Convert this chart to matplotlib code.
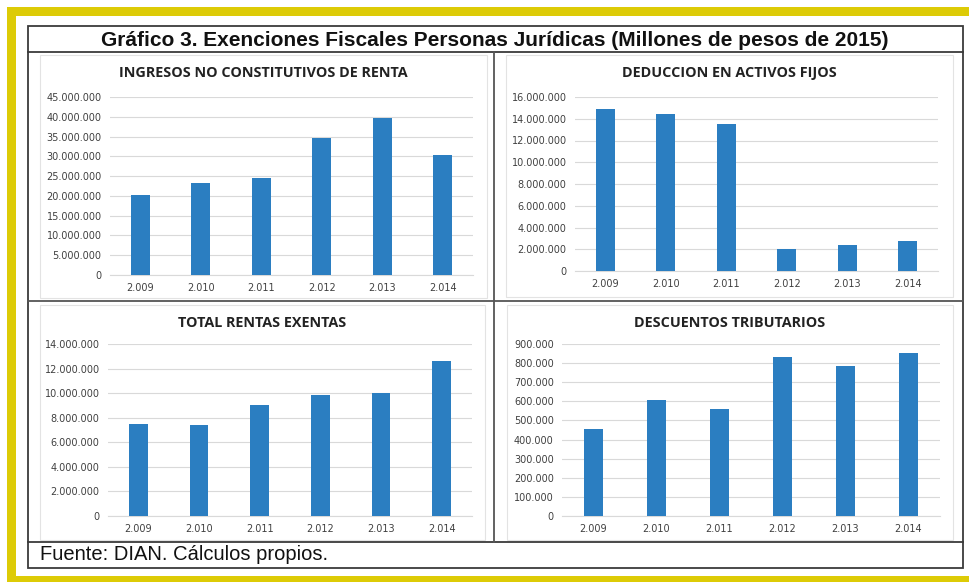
import matplotlib.pyplot as plt
from matplotlib.patches import Rectangle
from matplotlib.ticker import FuncFormatter, MultipleLocator

# data
years = ['2.009', '2.010', '2.011', '2.012', '2.013', '2.014']
ingresos = [20.3e6, 23.2e6, 24.4e6, 34.7e6, 39.7e6, 30.3e6]
deduccion = [14.9e6, 14.4e6, 13.55e6, 2.05e6, 2.35e6, 2.75e6]
rentas = [7.5e6, 7.4e6, 9.0e6, 9.85e6, 10.0e6, 12.6e6]
descuentos = [456e3, 607e3, 562e3, 833e3, 784e3, 854e3]

titulo = 'Gráfico 3. Exenciones Fiscales Personas Jurídicas (Millones de pesos de 2015)'
fuente = 'Fuente: DIAN. Cálculos propios.'

W, H = 970, 582
BLUE = '#2B7EC1'
GRID = '#D9D9D9'
NARROW = ['Liberation Sans', 'DejaVu Sans']

fig = plt.figure(figsize=(W / 100, H / 100), dpi=100)

# background axes in pixel coordinates for the frame
bg = fig.add_axes([0, 0, 1, 1])
bg.set_xlim(0, W)
bg.set_ylim(H, 0)
bg.axis('off')

yellow = '#DDCB06'
bg.add_patch(Rectangle((7, 7), W, 9, color=yellow, lw=0))
bg.add_patch(Rectangle((7, 7), 9, H, color=yellow, lw=0))
bg.add_patch(Rectangle((7, 576), W, 10, color=yellow, lw=0))

# outer black box and dividers
bg.add_patch(Rectangle((28, 26), 935, 542, fill=False, ec='#3A3A3A', lw=1.3))
bg.plot([28, 963], [52, 52], color='#3A3A3A', lw=1.3)
bg.plot([28, 963], [542, 542], color='#3A3A3A', lw=1.3)
bg.plot([494, 494], [52, 542], color='#555555', lw=1.3)
bg.plot([28, 963], [301, 301], color='#555555', lw=1.3)

bg.text(495, 40, titulo, ha='center', va='center', fontsize=15,
        fontweight='bold', family=NARROW, color='#111111')
bg.text(40, 555, fuente, ha='left', va='center', fontsize=14.5,
        family=NARROW, color='#111111')

# chart areas (light border) and plot positions in pixels
panels = [
    ('INGRESOS NO CONSTITUTIVOS DE RENTA', ingresos, 5e6, 45e6,
     (40, 55, 487, 298), (110, 97, 473, 275)),
    ('DEDUCCION EN ACTIVOS FIJOS', deduccion, 2e6, 16e6,
     (506, 55, 953, 297), (575, 97, 938, 271)),
    ('TOTAL RENTAS EXENTAS', rentas, 2e6, 14e6,
     (40, 305, 485, 540), (108, 344, 472, 516)),
    ('DESCUENTOS TRIBUTARIOS', descuentos, 100e3, 900e3,
     (507, 305, 953, 540), (562, 344, 940, 516)),
]

fmt = FuncFormatter(lambda v, p: f'{v:,.0f}'.replace(',', '.'))

for name, vals, step, top, area, plot in panels:
    x0, y0, x1, y1 = area
    bg.add_patch(Rectangle((x0, y0), x1 - x0, y1 - y0, fill=False,
                           ec='#E3E3E3', lw=0.8))
    bg.text((x0 + x1) / 2, y0 + 18, name, ha='center', va='center',
            fontsize=10.4, fontweight='bold', family=['Open Sans', 'DejaVu Sans'],
            color='#222222')

    px0, py0, px1, py1 = plot
    ax = fig.add_axes([px0 / W, 1 - py1 / H, (px1 - px0) / W, (py1 - py0) / H])
    ax.bar(years, vals, width=0.31, color=BLUE, zorder=3)
    ax.set_ylim(0, top)
    ax.set_xlim(-0.5, len(years) - 0.5)
    ax.yaxis.set_major_locator(MultipleLocator(step))
    ax.yaxis.set_major_formatter(fmt)
    ax.grid(axis='y', color=GRID, lw=0.8, zorder=0)
    for s in ['top', 'right', 'left']:
        ax.spines[s].set_visible(False)
    ax.spines['bottom'].set_color(GRID)
    ax.spines['bottom'].set_linewidth(0.8)
    ax.tick_params(length=0, labelsize=7, labelcolor='#404040')
    ax.tick_params(axis='y', pad=6)
    ax.tick_params(axis='x', pad=6)
    ax.set_facecolor('none')

fig.savefig('out.png', dpi=100)
